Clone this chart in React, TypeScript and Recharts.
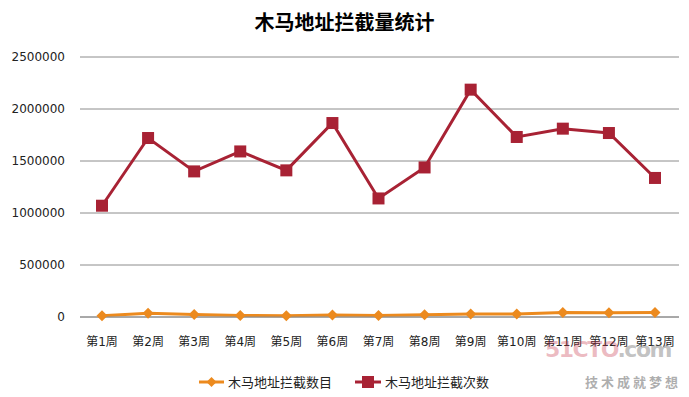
import React from "react";
import { LineChart, Line, XAxis, YAxis, CartesianGrid } from "recharts";

const weeks = ["第1周", "第2周", "第3周", "第4周", "第5周", "第6周", "第7周", "第8周", "第9周", "第10周", "第11周", "第12周", "第13周"];
const interceptCount = [12000, 35000, 25000, 15000, 12000, 19000, 15000, 22000, 29000, 29000, 44000, 42000, 44000];
const interceptTimes = [1070000, 1721000, 1400000, 1592000, 1410000, 1865000, 1140000, 1438000, 2186000, 1731000, 1811000, 1769000, 1337000];
const yTicks = [0, 500000, 1000000, 1500000, 2000000, 2500000];
const seriesNames = ["木马地址拦截数目", "木马地址拦截次数"];

const ORANGE = "#EC8A1E";
const RED = "#A82234";

const data = weeks.map((w, i) => ({ week: w, count: interceptCount[i], times: interceptTimes[i] }));

const Diamond = (props: any) => {
  const { cx, cy } = props;
  if (cx == null || cy == null) return null;
  const r = 5.5;
  return <polygon points={`${cx},${cy - r} ${cx + r},${cy} ${cx},${cy + r} ${cx - r},${cy}`} fill={ORANGE} />;
};

const Square = (props: any) => {
  const { cx, cy } = props;
  if (cx == null || cy == null) return null;
  const s = 12;
  return <rect x={cx - s / 2} y={cy - s / 2} width={s} height={s} fill={RED} />;
};

export default function App() {
  return (
    <div style={{ position: "absolute", left: 0, top: 0, width: 689, height: 397, background: "#fff" }}>
      <div style={{ position: "absolute", left: 0, top: 8, width: 689, textAlign: "center", fontFamily: "'Noto Sans CJK SC', sans-serif", fontWeight: 700, fontSize: 20, lineHeight: "28px", color: "#000" }}>
        木马地址拦截量统计
      </div>
      <LineChart width={689} height={397} data={data} margin={{ top: 57, right: 10, bottom: 40, left: 0 }}>
        <CartesianGrid vertical={false} stroke="#8c8c8c" strokeWidth={1} />
        <XAxis
          dataKey="week"
          padding={{ left: 22, right: 24 }}
          axisLine={{ stroke: "#8c8c8c" }}
          tickLine={false}
          tickMargin={14}
          tick={{ fill: "#222", fontSize: 12, fontFamily: "'DejaVu Sans', 'Noto Sans CJK SC', sans-serif" }}
          interval={0}
          height={40}
        />
        <YAxis
          width={80}
          domain={[0, 2500000]}
          ticks={yTicks}
          axisLine={false}
          tickLine={false}
          tickMargin={9}
          tick={{ fill: "#222", fontSize: 12, fontFamily: "'DejaVu Sans', sans-serif" }}
        />
        <Line type="linear" dataKey="count" name={seriesNames[0]} stroke={ORANGE} strokeWidth={3} dot={<Diamond />} activeDot={false} isAnimationActive={false} />
        <Line type="linear" dataKey="times" name={seriesNames[1]} stroke={RED} strokeWidth={3} dot={<Square />} activeDot={false} isAnimationActive={false} />
      </LineChart>
      <svg width={689} height={24} style={{ position: "absolute", left: 0, top: 370 }}>
        <line x1={199} y1={12} x2={224} y2={12} stroke={ORANGE} strokeWidth={3} />
        <polygon points="211.5,7 216.5,12 211.5,17 206.5,12" fill={ORANGE} />
        <line x1={355} y1={12} x2={381} y2={12} stroke={RED} strokeWidth={3} />
        <rect x={362} y={6} width={12} height={12} fill={RED} />
        <text x={228} y={17} fontSize={13} fill="#222" fontFamily="'Noto Sans CJK SC', sans-serif">{seriesNames[0]}</text>
        <text x={385} y={17} fontSize={13} fill="#222" fontFamily="'Noto Sans CJK SC', sans-serif">{seriesNames[1]}</text>
      </svg>
      <div style={{ position: "absolute", left: 545, top: 337, fontFamily: "'DejaVu Sans', sans-serif", fontWeight: 700, fontSize: 22, letterSpacing: -1.5, color: "rgba(200,60,80,0.35)", pointerEvents: "none", whiteSpace: "nowrap" }}>
        51CTO<span style={{ color: "rgba(120,120,120,0.45)" }}>.com</span>
      </div>
      <div style={{ position: "absolute", left: 585, top: 372, fontFamily: "'Noto Sans CJK SC', sans-serif", fontWeight: 700, fontSize: 13, letterSpacing: 3, color: "rgba(120,120,120,0.6)", pointerEvents: "none" }}>
        技术成就梦想
      </div>
    </div>
  );
}
